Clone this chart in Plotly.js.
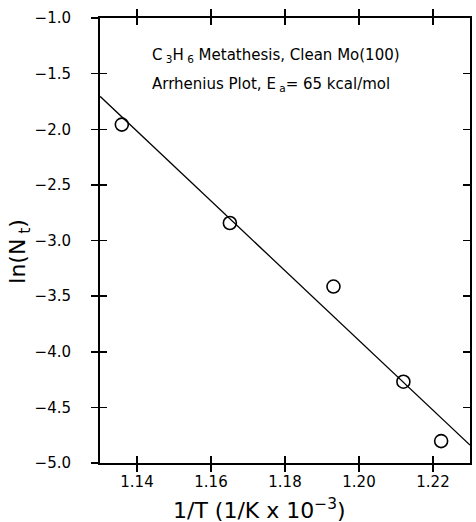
<!DOCTYPE html>
<html>
<head>
<meta charset="utf-8">
<script src="https://cdn.plot.ly/plotly-3.0.1.min.js"></script>
<style>html,body{margin:0;padding:0;background:#fff}</style>
</head>
<body>
<div id="chart" style="width:476px;height:522px"></div>
<script>
// Data
const invT = [1.1359, 1.1651, 1.1931, 1.2120, 1.2222];
const lnNt = [-1.958, -2.843, -3.414, -4.269, -4.803];
const fitX = [1.13, 1.23];
const fitY = [-1.704, -4.839];
const xTicks = [1.14, 1.16, 1.18, 1.20, 1.22];
const yTicks = [-5.0, -4.5, -4.0, -3.5, -3.0, -2.5, -2.0, -1.5, -1.0];

const FONT = 'DejaVu Sans, Verdana, sans-serif';

const data = [
  {x: fitX, y: fitY, mode: 'lines', type: 'scatter',
   line: {color: '#000', width: 1.3}, xaxis: 'x', yaxis: 'y2', hoverinfo: 'skip'},
  {x: invT, y: lnNt, mode: 'markers', type: 'scatter',
   marker: {symbol: 'circle-open', size: 13, color: '#000', line: {width: 1.6, color: '#000'}},
   xaxis: 'x', yaxis: 'y'}
];

const layout = {
  width: 476, height: 522,
  margin: {l: 100, r: 6, t: 18, b: 59},
  paper_bgcolor: '#fff', plot_bgcolor: '#fff',
  showlegend: false,
  font: {family: FONT, color: '#000', size: 15},
  xaxis: {
    range: [1.13, 1.23], tickvals: xTicks, tickformat: '.2f',
    ticks: 'inside', ticklen: 7, tickwidth: 1.5, tickcolor: '#000',
    mirror: 'allticks', showline: true, linewidth: 2, linecolor: '#000',
    showgrid: false, zeroline: false, ticklabelstandoff: 4,
    tickfont: {size: 15}
  },
  yaxis: {
    range: [-5, -1], tickvals: yTicks, tickformat: '.1f',
    ticks: 'outside', ticklen: 7, tickwidth: 1.5, tickcolor: '#000',
    mirror: true, showline: true, linewidth: 2, linecolor: '#000',
    showgrid: false, zeroline: false, ticklabelstandoff: 17,
    tickfont: {size: 15}
  },
  yaxis2: {
    range: [-5, -1], tickvals: yTicks, overlaying: 'y', side: 'left',
    ticks: 'inside', ticklen: 7, tickwidth: 1.5, tickcolor: '#000',
    mirror: 'allticks', showline: false, showticklabels: false,
    showgrid: false, zeroline: false
  },
  annotations: [
    {xref: 'paper', yref: 'paper', x: 0.135, y: 0.915, xanchor: 'left', yanchor: 'middle',
     text: 'C<sub> 3</sub>H<sub> 6</sub> Metathesis, Clean Mo(100)', showarrow: false, font: {size: 15}},
    {xref: 'paper', yref: 'paper', x: 0.135, y: 0.85, xanchor: 'left', yanchor: 'middle',
     text: 'Arrhenius Plot, E<sub> a</sub>= 65 kcal/mol', showarrow: false, font: {size: 15}},
    {xref: 'paper', yref: 'paper', x: 0.432, y: -0.104, xanchor: 'center', yanchor: 'middle',
     text: '1/T (1/K x 10<sup>−3</sup>)', showarrow: false, font: {size: 22}},
    {xref: 'paper', yref: 'paper', x: -0.216, y: 0.475, xanchor: 'center', yanchor: 'middle',
     textangle: -90, text: 'ln(N<sub> t</sub>)', showarrow: false, font: {size: 22}}
  ]
};

Plotly.newPlot('chart', data, layout, {displayModeBar: false, staticPlot: true});
</script>
</body>
</html>
